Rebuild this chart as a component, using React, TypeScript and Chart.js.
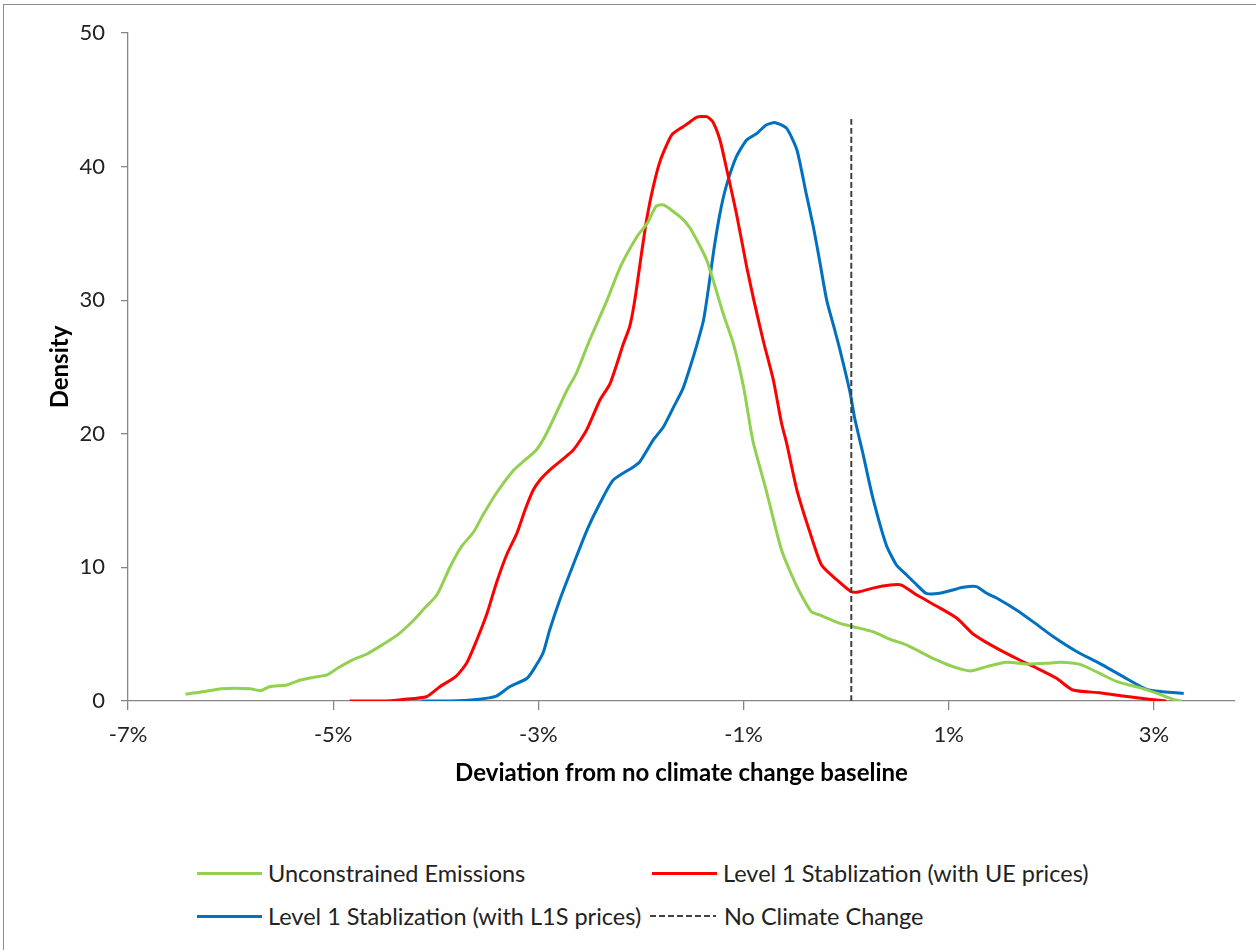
import React, { useEffect, useRef } from "react";
import { Chart, registerables } from "chart.js";

Chart.register(...registerables);

const FONT = "Lato, 'Open Sans', sans-serif";

const X_TICKS = [-7, -5, -3, -1, 1, 3];
const X_MIN = -7;
const X_MAX = 3.79;
const Y_MIN = 0;
const Y_MAX = 50;
const Y_STEP = 10;

const SERIES_LABELS = [
  "Unconstrained Emissions",
  "Level 1 Stablization (with UE prices)",
  "Level 1 Stablization (with L1S prices)",
  "No Climate Change",
];

const greenX = [-6.44, -6.30, -6.09, -5.81, -5.71, -5.62, -5.45, -5.32, -5.19, -5.06, -4.95, -4.80, -4.67, -4.54, -4.38, -4.22, -4.11, -3.99, -3.86, -3.75, -3.63, -3.54, -3.41, -3.24, -3.15, -3.02, -2.92, -2.72, -2.63, -2.50, -2.33, -2.20, -2.04, -1.94, -1.85, -1.78, -1.62, -1.52, -1.36, -1.20, -1.10, -1.00, -0.91, -0.78, -0.63, -0.48, -0.34, -0.26, -0.06, 0.07, 0.26, 0.43, 0.59, 0.75, 0.88, 1.04, 1.21, 1.37, 1.56, 1.76, 1.95, 2.08, 2.28, 2.47, 2.64, 2.86, 3.03, 3.19, 3.27];
const greenY = [0.52, 0.65, 0.92, 0.92, 0.77, 1.07, 1.20, 1.57, 1.77, 1.95, 2.49, 3.12, 3.52, 4.12, 4.91, 6.01, 6.94, 7.93, 10.05, 11.55, 12.67, 13.92, 15.55, 17.29, 17.91, 18.79, 20.04, 23.28, 24.53, 27.02, 30.01, 32.51, 34.75, 35.75, 37.05, 37.13, 36.25, 35.38, 33.01, 29.02, 26.77, 23.5, 19.5, 15.79, 11.30, 8.56, 6.69, 6.44, 5.81, 5.56, 5.19, 4.61, 4.19, 3.57, 3.07, 2.57, 2.25, 2.57, 2.90, 2.77, 2.82, 2.90, 2.74, 2.07, 1.45, 1.00, 0.57, 0.12, 0.0];

const redX = [-4.84, -4.51, -4.32, -4.09, -3.96, -3.80, -3.70, -3.60, -3.50, -3.41, -3.31, -3.21, -3.13, -3.05, -2.97, -2.89, -2.66, -2.53, -2.40, -2.30, -2.17, -2.11, -2.06, -1.99, -1.94, -1.88, -1.81, -1.70, -1.59, -1.54, -1.46, -1.36, -1.30, -1.23, -1.17, -1.07, -0.97, -0.90, -0.81, -0.71, -0.63, -0.58, -0.48, -0.35, -0.24, -0.09, 0.05, 0.13, 0.26, 0.43, 0.54, 0.69, 0.88, 1.08, 1.24, 1.47, 1.69, 1.86, 2.05, 2.21, 2.47, 2.70, 2.93, 3.12];
const redY = [0, 0.0, 0.12, 0.32, 1.07, 1.87, 2.82, 4.57, 6.56, 8.81, 10.93, 12.55, 14.30, 15.79, 16.67, 17.29, 18.79, 20.28, 22.53, 23.78, 26.77, 28.02, 30.01, 33.76, 36.25, 38.50, 40.49, 42.37, 42.99, 43.24, 43.69, 43.74, 43.36, 41.99, 39.99, 36.50, 32.51, 30.01, 27.02, 24.03, 20.79, 19.29, 15.79, 12.55, 10.18, 9.06, 8.18, 8.18, 8.45, 8.68, 8.68, 7.93, 7.11, 6.19, 5.0, 3.94, 3.07, 2.45, 1.70, 0.82, 0.62, 0.37, 0.15, 0.0];

const blueX = [-4.14, -3.86, -3.60, -3.41, -3.28, -3.11, -3.02, -2.95, -2.89, -2.79, -2.66, -2.52, -2.40, -2.27, -2.07, -2.01, -1.88, -1.78, -1.68, -1.59, -1.52, -1.46, -1.39, -1.34, -1.29, -1.23, -1.17, -1.07, -0.97, -0.87, -0.78, -0.69, -0.58, -0.48, -0.39, -0.32, -0.26, -0.19, -0.12, -0.06, 0.04, 0.08, 0.17, 0.26, 0.39, 0.49, 0.59, 0.69, 0.78, 0.91, 1.04, 1.14, 1.27, 1.37, 1.47, 1.66, 1.82, 2.02, 2.25, 2.47, 2.70, 2.93, 3.09, 3.29];
const blueY = [0, 0, 0.12, 0.37, 1.07, 1.70, 2.69, 3.69, 5.31, 7.6, 10.2, 12.9, 14.80, 16.54, 17.54, 17.91, 19.54, 20.53, 22.03, 23.4, 25.02, 26.52, 28.52, 31.01, 33.76, 36.50, 38.50, 40.74, 41.99, 42.49, 43.11, 43.29, 42.86, 41.24, 38.00, 35.50, 33.01, 30.01, 28.02, 26.27, 23.03, 21.28, 18.29, 15.2, 11.7, 10.18, 9.43, 8.68, 8.06, 8.06, 8.31, 8.51, 8.56, 8.06, 7.69, 6.81, 5.94, 4.81, 3.69, 2.82, 1.82, 0.87, 0.70, 0.57];

const baselineX = [0.05, 0.05];
const baselineY = [0, 43.6];

const COLORS = ["#92D050", "#FF0000", "#0070C0", "#404040"];

const toPoints = (xs: number[], ys: number[]) => xs.map((x, i) => ({ x, y: ys[i] }));

export default function App() {
  const canvasRef = useRef<HTMLCanvasElement | null>(null);

  useEffect(() => {
    if (!canvasRef.current) return;
    const mk = (i: number, xs: number[], ys: number[], dash: number[] = [], width = 3) => ({
      label: SERIES_LABELS[i],
      data: toPoints(xs, ys),
      showLine: true,
      borderColor: COLORS[i],
      backgroundColor: COLORS[i],
      borderWidth: width,
      borderDash: dash,
      pointRadius: 0,
      tension: 0.2,
      fill: false,
    });
    const chart = new Chart(canvasRef.current, {
      type: "scatter",
      data: {
        datasets: [
          mk(3, baselineX, baselineY, [6, 3], 2),
          mk(0, greenX, greenY),
          mk(1, redX, redY),
          mk(2, blueX, blueY),
        ] as any,
      },
      options: {
        responsive: false,
        animation: false,
        layout: { padding: { left: 0, right: 21, top: 33, bottom: 39 } },
        plugins: { legend: { display: false }, tooltip: { enabled: false } },
        scales: {
          x: {
            type: "linear",
            min: X_MIN,
            max: X_MAX,
            afterBuildTicks: (s: any) => {
              s.ticks = X_TICKS.map((v) => ({ value: v }));
            },
            afterFit: (s: any) => {
              s.height = 100;
            },
            grid: { drawOnChartArea: false, drawTicks: true, tickLength: 9, color: "#868686", lineWidth: 1.3 },
            border: { display: true, color: "#868686", width: 1.3 },
            ticks: {
              autoSkip: false,
              maxRotation: 0,
              padding: 12,
              color: "#222",
              font: { family: FONT, size: 22 },
              callback: (v: any) => `${v}%`,
            },
            title: {
              display: true,
              text: "Deviation from no climate change baseline",
              color: "#000",
              font: { family: FONT, size: 24, weight: "bold" },
              padding: { top: 0, bottom: 13.6 },
            },
          },
          y: {
            type: "linear",
            min: Y_MIN,
            max: Y_MAX,
            afterFit: (s: any) => {
              s.width = 128;
            },
            grid: { drawOnChartArea: false, drawTicks: true, tickLength: 7, color: "#868686", lineWidth: 1.3 },
            border: { display: true, color: "#868686", width: 1.3 },
            ticks: {
              stepSize: Y_STEP,
              padding: 16,
              color: "#222",
              font: { family: FONT, size: 22 },
            },
            title: {
              display: true,
              text: "Density",
              color: "#000",
              font: { family: FONT, size: 24, weight: "bold" },
              padding: { top: 45.6, bottom: 0 },
            },
          },
        },
      } as any,
    });
    return () => chart.destroy();
  }, []);

  const legendText: React.CSSProperties = {
    position: "absolute",
    fontFamily: FONT,
    fontSize: 23.5,
    color: "#222",
    lineHeight: "30px",
    height: 30,
    whiteSpace: "nowrap",
  };
  const sample = (left: number, top: number, color: string): React.CSSProperties => ({
    position: "absolute",
    left,
    top: top - 1.5,
    width: 65,
    height: 3,
    background: color,
  });

  return (
    <div style={{ position: "absolute", left: 0, top: 0, width: 1256, height: 950, background: "#fff", overflow: "hidden" }}>
      <div
        style={{
          position: "absolute",
          left: 3,
          top: 4,
          width: 1253,
          height: 946,
          borderLeft: "1px solid #8c8c8c",
          borderTop: "1px solid #8c8c8c",
          boxSizing: "border-box",
        }}
      />
      <canvas
        ref={canvasRef}
        width={1256}
        height={840}
        style={{ position: "absolute", left: 0, top: 0, width: 1256, height: 840 }}
      />
      <div style={sample(197, 873, COLORS[0])} />
      <div style={{ ...legendText, left: 268, top: 873 - 15 }}>{SERIES_LABELS[0]}</div>
      <div style={sample(652, 873, COLORS[1])} />
      <div style={{ ...legendText, left: 723, top: 873 - 15 }}>{SERIES_LABELS[1]}</div>
      <div style={sample(197, 916, COLORS[2])} />
      <div style={{ ...legendText, left: 268, top: 916 - 15 }}>{SERIES_LABELS[2]}</div>
      <div
        style={{
          position: "absolute",
          left: 650,
          top: 915,
          width: 66,
          height: 2,
          background: "repeating-linear-gradient(to right, #404040 0 6px, transparent 6px 9px)",
        }}
      />
      <div style={{ ...legendText, left: 724, top: 916 - 15 }}>{SERIES_LABELS[3]}</div>
    </div>
  );
}
